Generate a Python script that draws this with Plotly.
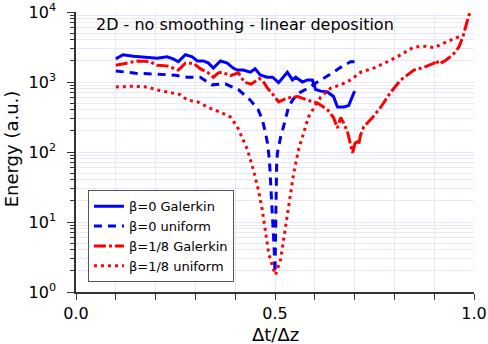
import plotly.graph_objects as go

# beta=0, Galerkin
b0_gal_x = [0.10, 0.118, 0.144, 0.169, 0.204, 0.229, 0.244, 0.257, 0.275, 0.292, 0.305, 0.32, 0.333,
            0.345, 0.363, 0.38, 0.395, 0.405, 0.42, 0.438, 0.45, 0.463, 0.48, 0.494, 0.509, 0.531,
            0.544, 0.552, 0.569, 0.582, 0.594, 0.602, 0.615, 0.632, 0.647, 0.657, 0.673, 0.685, 0.695, 0.70]
b0_gal_y = [2140, 2450, 2340, 2290, 2190, 2290, 2140, 1950, 2450, 2290, 2000, 2000, 1860,
            1580, 2000, 1860, 1580, 1480, 1480, 1380, 1550, 1260, 1170, 1170, 980, 1380,
            1070, 1170, 1000, 1070, 1070, 780, 740, 720, 620, 440, 440, 460, 620, 740]

# beta=0, uniform
b0_uni_x = [0.10, 0.15, 0.20, 0.25, 0.28, 0.312, 0.342, 0.375, 0.408, 0.438, 0.458, 0.468, 0.476,
            0.481, 0.486, 0.489, 0.491, 0.494, 0.496, 0.498, 0.50, 0.501, 0.502, 0.503, 0.504,
            0.506, 0.514, 0.526, 0.534, 0.545, 0.559, 0.58, 0.60, 0.615, 0.647, 0.665, 0.69, 0.70]
b0_uni_y = [1440, 1330, 1300, 1250, 1170, 1170, 910, 940, 780, 550, 400, 290, 190,
            135, 77, 40, 20, 12, 7, 4, 1.9, 5, 12, 32, 61,
            97, 163, 288, 440, 560, 690, 800, 950, 1070, 1380, 1620, 1950, 1950]

# beta=1/8, Galerkin
b8_gal_x = [0.10, 0.128, 0.156, 0.186, 0.204, 0.229, 0.257, 0.275, 0.295, 0.312, 0.330, 0.345, 0.358,
            0.368, 0.388, 0.408, 0.423, 0.44, 0.46, 0.468, 0.481, 0.496, 0.509, 0.531, 0.557,
            0.582, 0.607, 0.632, 0.647, 0.657, 0.665, 0.673, 0.683, 0.695, 0.703, 0.71, 0.715,
            0.723, 0.746, 0.766, 0.791, 0.816, 0.849, 0.874, 0.90, 0.904, 0.912, 0.929, 0.947,
            0.962, 0.972, 0.98, 0.99]
b8_gal_y = [1740, 1860, 2000, 1950, 1740, 1700, 1480, 1860, 1860, 1550, 1380, 1170, 1350,
            1380, 1230, 1350, 1000, 930, 1120, 1070, 820, 650, 520, 590, 620,
            550, 500, 400, 310, 220, 310, 257, 186, 97, 148, 126, 175,
            230, 316, 440, 720, 1070, 1480, 1620, 1860, 2050, 1800, 2050, 2450,
            3160, 4370, 6460, 10000]

# beta=1/8, uniform
b8_uni_x = [0.10, 0.144, 0.179, 0.204, 0.229, 0.262, 0.28, 0.305, 0.338, 0.363, 0.388, 0.405, 0.418,
            0.431, 0.446, 0.458, 0.468, 0.476, 0.484, 0.494, 0.501, 0.514, 0.521, 0.531, 0.539,
            0.547, 0.559, 0.572, 0.584, 0.602, 0.615, 0.64, 0.665, 0.69, 0.715, 0.748, 0.783,
            0.816, 0.849, 0.879, 0.90, 0.924, 0.95, 0.972]
b8_uni_y = [850, 870, 850, 770, 720, 660, 550, 520, 420, 370, 316, 230, 158,
            107, 55, 29, 15, 7, 3.6, 2.3, 1.75, 2.9, 5.5, 12, 26,
            50, 107, 186, 316, 470, 610, 820, 910, 1070, 1380, 1580, 1950,
            2450, 3160, 3240, 3090, 3600, 4100, 4680]

y_major = [1, 10, 100, 1000, 10000]
y_labels = ["10<sup>0</sup>", "10<sup>1</sup>", "10<sup>2</sup>", "10<sup>3</sup>", "10<sup>4</sup>"]
y_minor = [m * d for d in [1, 10, 100, 1000] for m in range(2, 10)]

font = "DejaVu Sans"
grid = "#e8e8fa"

fig = go.Figure()
fig.add_trace(go.Scatter(x=b0_gal_x, y=b0_gal_y, mode="lines", name="β=0 Galerkin",
                         line=dict(color="#0000ff", width=3)))
fig.add_trace(go.Scatter(x=b0_uni_x, y=b0_uni_y, mode="lines", name="β=0 uniform",
                         line=dict(color="#0000ee", width=3, dash="8px,6px")))
fig.add_trace(go.Scatter(x=b8_gal_x, y=b8_gal_y, mode="lines", name="β=1/8 Galerkin",
                         line=dict(color="#ff0000", width=3, dash="12px,3px,3px,3px")))
fig.add_trace(go.Scatter(x=b8_uni_x, y=b8_uni_y, mode="lines", name="β=1/8 uniform",
                         line=dict(color="#ff0000", width=3, dash="3px,4px")))

fig.add_annotation(text="2D - no smoothing - linear deposition", xref="paper", yref="paper",
                   x=0.045, y=0.955, xanchor="left", yanchor="middle", showarrow=False,
                   font=dict(family=font, size=16, color="black"))
# axis titles as annotations so they sit where the reference has them
fig.add_annotation(text="Energy (a.u.)", xref="paper", yref="paper", x=-0.163, y=0.51,
                   xanchor="center", yanchor="middle", textangle=-90, showarrow=False,
                   font=dict(family=font, size=18, color="black"))
fig.add_annotation(text="Δt/Δz", xref="paper", yref="paper", x=0.5, y=-0.108,
                   xanchor="center", yanchor="top", showarrow=False,
                   font=dict(family=font, size=18, color="black"))

fig.update_xaxes(range=[0, 1], tickvals=[0, 0.5, 1.0], ticktext=["0.0", "0.5", "1.0"],
                 ticks="outside", ticklen=6, tickcolor="#333", showline=True, linecolor="#333",
                 linewidth=1.5, showgrid=True, gridcolor=grid, zeroline=False, automargin=False,
                 ticklabeloverflow="allow",
                 minor=dict(dtick=0.1, ticks="outside", ticklen=6, tickcolor="#333",
                            showgrid=True, gridcolor=grid),
                 tickfont=dict(family=font, size=16, color="black"))
fig.update_yaxes(type="log", range=[0, 4], tickvals=y_major, ticktext=y_labels,
                 ticks="outside", ticklen=7, tickcolor="#333", showline=True, linecolor="#333",
                 linewidth=1.5, showgrid=True, gridcolor=grid, zeroline=False, automargin=False,
                 ticklabelstandoff=8, ticklabeloverflow="allow",
                 minor=dict(tickvals=y_minor, ticks="outside", ticklen=4, tickcolor="#333",
                            showgrid=True, gridcolor=grid),
                 tickfont=dict(family=font, size=16, color="black"))

fig.update_layout(width=488, height=344, margin=dict(l=76, r=14, t=12, b=52),
                  plot_bgcolor="white", paper_bgcolor="white",
                  font=dict(family=font, color="black"),
                  legend=dict(x=0.03, y=0.035, xanchor="left", yanchor="bottom",
                              bordercolor="#555", borderwidth=1, bgcolor="white",
                              font=dict(family=font, size=13), tracegroupgap=0))

# drop the default 8px body margin so the 488x344 figure fills the window
fig.write_html("out.html", config={"displayModeBar": False},
               post_script="document.body.style.margin='0';")
